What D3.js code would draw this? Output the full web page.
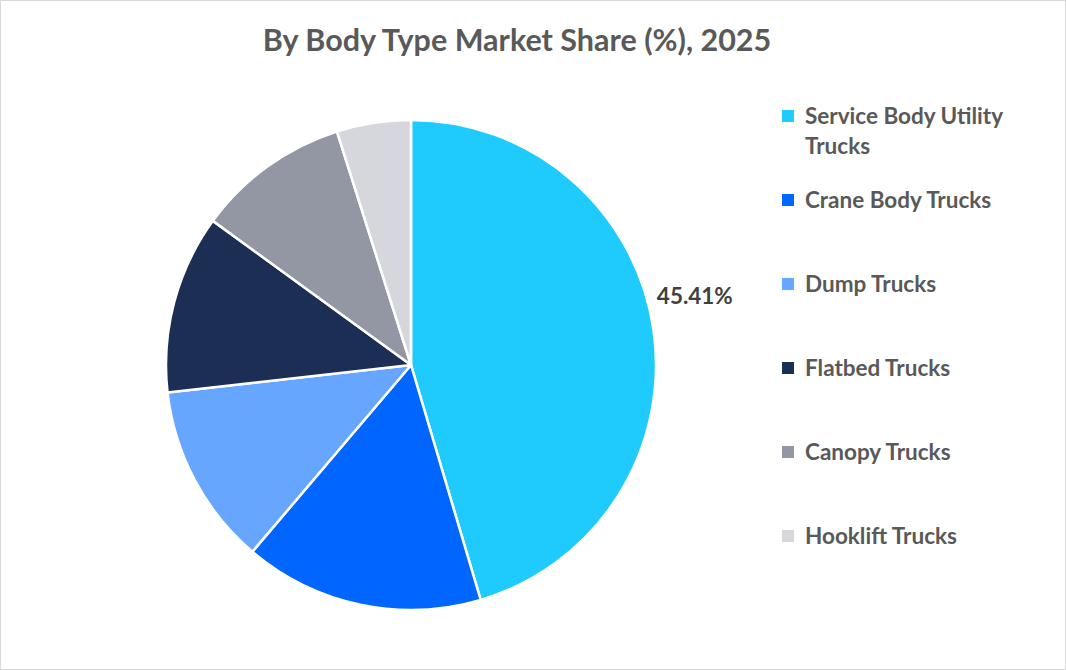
<!DOCTYPE html>
<html><head><meta charset="utf-8">
<script src="https://cdn.jsdelivr.net/npm/d3@7"></script>
<style>body{margin:0;background:#fff}svg{display:block}</style>
</head><body>
<script>
const categories = ["Service Body Utility Trucks","Crane Body Trucks","Dump Trucks","Flatbed Trucks","Canopy Trucks","Hooklift Trucks"];
const legendLines = [["Service Body Utility","Trucks"],["Crane Body Trucks"],["Dump Trucks"],["Flatbed Trucks"],["Canopy Trucks"],["Hooklift Trucks"]];
const values = [45.41, 15.8, 12.0, 11.8, 10.1, 4.89];
const colors = ["#1ECBFC","#0066FF","#66A6FF","#1C2E54","#9297A3","#D5D7DD"];
const title = "By Body Type Market Share (%), 2025";

const W=1066,H=670;
const svg=d3.select("body").append("svg").attr("width",W).attr("height",H);
const font="Lato, 'Open Sans', sans-serif";
svg.append("rect").attr("x",0.5).attr("y",0.5).attr("width",W-1).attr("height",H-1).attr("fill","#fff").attr("stroke","#D9D9D9");
svg.append("text").attr("x",517).attr("y",51).attr("text-anchor","middle").attr("font-family",font).attr("font-weight","bold").attr("font-size",30.5).attr("fill","#595959").text(title);

const cx=411,cy=365,r=245;
const pie=d3.pie().sort(null).value(d=>d);
const arcs=pie(values);
const arc=d3.arc().innerRadius(0).outerRadius(r);
const g=svg.append("g").attr("transform",`translate(${cx},${cy})`);
g.selectAll("path").data(arcs).join("path").attr("d",arc).attr("fill",(d,i)=>colors[i]).attr("stroke","#fff").attr("stroke-width",2.5).attr("stroke-linejoin","round");
// label for first slice, placed just outside the arc (Excel best-fit)
const a0=arcs[0];
const shift=0.093;
const labelArc=d3.arc().innerRadius(r+47).outerRadius(r+47);
const [lx,ly]=labelArc.centroid({startAngle:a0.startAngle-shift,endAngle:a0.endAngle-shift});
g.append("text").attr("x",lx).attr("y",ly).attr("dy","0.35em").attr("text-anchor","middle").attr("font-family",font).attr("font-weight","bold").attr("font-size",22.5).attr("fill","#404040").text(values[0].toFixed(2)+"%");

const lg=svg.append("g");
const y0=116, step=84;
legendLines.forEach((lines,i)=>{
  const y=y0+i*step;
  lg.append("rect").attr("x",782).attr("y",y-6).attr("width",12).attr("height",12).attr("fill",colors[i]);
  const t=lg.append("text").attr("x",805).attr("y",y).attr("font-family",font).attr("font-weight","bold").attr("font-size",22.5).attr("fill","#595959");
  lines.forEach((l,j)=>t.append("tspan").attr("x",805).attr("dy",j===0?"0.35em":"30").text(l));
});
</script>
</body></html>
